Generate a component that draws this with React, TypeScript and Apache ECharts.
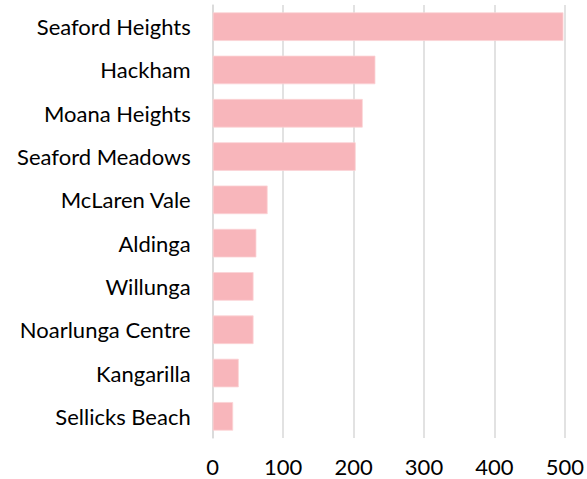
import React, { useEffect, useRef } from "react";
import * as echarts from "echarts";

const categories = [
  "Seaford Heights",
  "Hackham",
  "Moana Heights",
  "Seaford Meadows",
  "McLaren Vale",
  "Aldinga",
  "Willunga",
  "Noarlunga Centre",
  "Kangarilla",
  "Sellicks Beach",
];
const values = [498, 231, 213, 203, 78, 62, 58, 58, 37, 29];

export default function App() {
  const ref = useRef<HTMLDivElement>(null);
  useEffect(() => {
    if (!ref.current) return;
    const chart = echarts.init(ref.current, undefined, { renderer: "svg" });
    chart.setOption({
      animation: false,
      backgroundColor: "#ffffff",
      grid: { left: 212.7, right: 18.7, top: 5, bottom: 41, containLabel: false },
      xAxis: {
        type: "value",
        min: 0,
        max: 500,
        interval: 100,
        axisLine: { show: false },
        axisTick: { show: false },
        splitLine: { show: true, lineStyle: { color: "#d9d9d9", width: 1.5 } },
        axisLabel: {
          color: "#000000",
          fontSize: 22,
          fontFamily: "Lato",
          margin: 17,
        },
      },
      yAxis: {
        type: "category",
        data: categories,
        inverse: true,
        axisLine: { show: true, lineStyle: { color: "#d9d9d9", width: 1.5 } },
        axisTick: { show: false },
        axisLabel: {
          color: "#000000",
          fontSize: 22,
          fontFamily: "Lato",
          margin: 22,
          padding: [0, 0, 4, 0],
        },
      },
      series: [
        {
          type: "bar",
          data: values,
          barCategoryGap: "34%",
          itemStyle: { color: "#f8b6bb", borderColor: "#fbd3d6", borderWidth: 0.8 },
        },
      ],
    });
    return () => chart.dispose();
  }, []);
  return <div ref={ref} style={{ width: 587, height: 479, position: "absolute", left: 0, top: 0 }} />;
}
